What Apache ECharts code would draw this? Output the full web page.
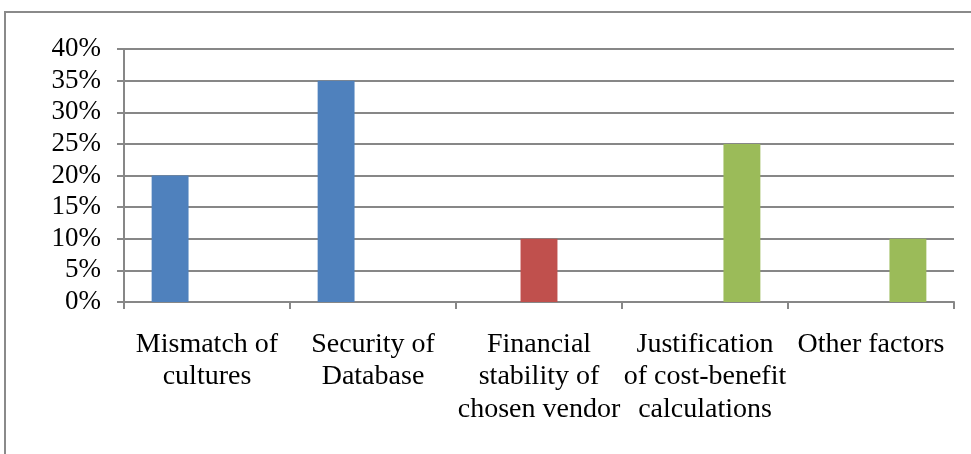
<!DOCTYPE html>
<html>
<head>
<meta charset="utf-8">
<script src="https://cdn.jsdelivr.net/npm/echarts@6/dist/echarts.min.js"></script>
<style>html,body{margin:0;padding:0;background:#fff;}#c{width:971px;height:454px;}</style>
</head>
<body>
<div id="c"></div>
<script>
var categories = ['Mismatch of\ncultures', 'Security of\nDatabase', 'Financial\nstability of\nchosen vendor', 'Justification\nof cost-benefit\ncalculations', 'Other factors'];
var blueValues = [0.20, 0.35, '-', '-', '-'];
var redValues = ['-', '-', 0.10, '-', '-'];
var greenValues = ['-', '-', '-', 0.25, 0.10];
var yMin = 0, yMax = 0.4, yStep = 0.05;

var chart = echarts.init(document.getElementById('c'), null, {renderer: 'canvas'});
var font = 'Liberation Serif';
var gray = '#878787';
chart.setOption({
  animation: false,
  backgroundColor: '#ffffff',
  graphic: [{
    type: 'rect', shape: {x: 5, y: 12, width: 1100, height: 600},
    style: {fill: 'none', stroke: '#8a8a8a', lineWidth: 2}, silent: true
  }],
  grid: {left: 124, right: 17, top: 49, bottom: 152, containLabel: false},
  xAxis: {
    type: 'category', data: categories,
    axisLine: {lineStyle: {color: gray, width: 2}},
    axisTick: {show: true, length: 7, lineStyle: {color: gray, width: 2}},
    axisLabel: {interval: 0, margin: 26, fontFamily: font, fontSize: 28, color: '#000', lineHeight: 32.5}
  },
  yAxis: {
    type: 'value', min: yMin, max: yMax, interval: yStep,
    axisLine: {show: true, lineStyle: {color: gray, width: 2}},
    axisTick: {show: true, length: 7, lineStyle: {color: gray, width: 2}},
    splitLine: {lineStyle: {color: gray, width: 2}},
    axisLabel: {margin: 23, fontFamily: font, fontSize: 27, color: '#000',
      formatter: function (v) { return Math.round(v * 100) + '%'; }}
  },
  series: [
    {type: 'bar', data: blueValues, itemStyle: {color: '#4F81BD'}, barGap: '0%', barCategoryGap: '33.3%'},
    {type: 'bar', data: redValues, itemStyle: {color: '#C0504D'}, barGap: '0%', barCategoryGap: '33.3%'},
    {type: 'bar', data: greenValues, itemStyle: {color: '#9BBB59'}, barGap: '0%', barCategoryGap: '33.3%'}
  ]
});
</script>
</body>
</html>
